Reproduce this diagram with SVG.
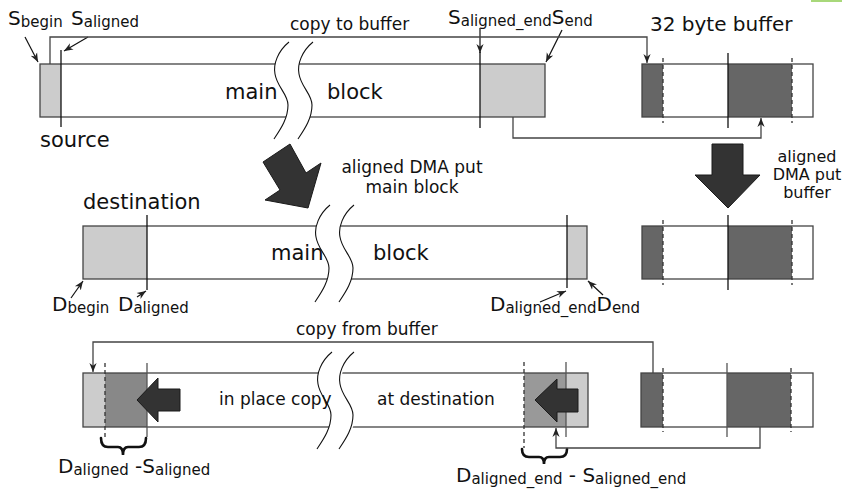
<svg xmlns="http://www.w3.org/2000/svg" xmlns:xlink="http://www.w3.org/1999/xlink" width="842" height="490" viewBox="0 0 842 490">
<style>
text{font-family:"DejaVu Sans","Liberation Sans",sans-serif;fill:#111}
.big{font-size:21px}
.med{font-size:20px}
.sm{font-size:17px}
.smr{font-size:16px}
.sub{font-size:15px}
.box{fill:none;stroke:#444;stroke-width:1.3}
.lg{fill:#cccccc}
.dk{fill:#666666}
.vl{stroke:#111;stroke-width:1.3}
.vg{stroke:#555;stroke-width:1.3}
.dash{stroke:#333;stroke-width:1.3;stroke-dasharray:4,3}
.wave{fill:none;stroke:#111;stroke-width:1.1}
.gapfill{fill:#fff;stroke:none}
.conn{fill:none;stroke:#444;stroke-width:1.3}
.ptr{fill:none;stroke:#111;stroke-width:1.2}
.bigarrow{fill:#333;stroke:#1a1a1a;stroke-width:1}
.brace{fill:none;stroke:#111;stroke-width:2.6;stroke-linecap:round}
</style>
<defs>
<marker id="ah" viewBox="0 0 10 10" refX="10" refY="5" markerWidth="9" markerHeight="9" markerUnits="userSpaceOnUse" orient="auto">
<path d="M0,1 L10,5 L0,9 L3,5 z" fill="#222"/>
</marker>
<path id="gap" d="M0,0 C-11,9 -16,22 -14,32 C-12,45 -1,52 -1,63 C-1,77 -9,88 -15,97 L9,97 C15,88 23,77 23,63 C23,52 12,45 10,32 C8,22 13,9 24,0 Z"/>
<path id="w" d="M0,0 C-11,9 -16,22 -14,32 C-12,45 -1,52 -1,63 C-1,77 -9,88 -15,97"/>
</defs>
<rect x="811" y="0" width="31" height="2" fill="#a8d87a"/>

<g id="source-block">
<rect class="lg" x="40" y="64" width="21" height="53"/>
<rect class="lg" x="480" y="64" width="65" height="53"/>
<rect class="box" x="40" y="64" width="505" height="53"/>
<line class="vl" x1="61" y1="50" x2="61" y2="127"/>
<line class="vl" x1="480" y1="52" x2="480" y2="128"/>
<g transform="translate(289,42)"><use href="#gap" class="gapfill"/><use href="#w" class="wave"/><use href="#w" class="wave" x="24"/></g>
<text class="big" x="225" y="99">main</text>
<text class="big" x="327" y="99">block</text>
<text class="big" x="40" y="147">source</text>
</g>

<g id="buffer-top">
<rect class="dk" x="642" y="64" width="21" height="53"/>
<rect class="dk" x="728" y="64" width="64" height="53"/>
<rect class="box" x="642" y="64" width="171" height="53"/>
<line class="dash" x1="663" y1="58" x2="663" y2="123"/>
<line class="dash" x1="792" y1="58" x2="792" y2="123"/>
<line class="vl" x1="728" y1="53" x2="728" y2="128"/>
<text class="med" x="650" y="31">32 byte buffer</text>
</g>

<g id="dest-block">
<rect class="lg" x="83" y="226" width="64" height="53"/>
<rect class="lg" x="567" y="226" width="20" height="53"/>
<rect class="box" x="83" y="226" width="504" height="53"/>
<line class="vl" x1="147" y1="215" x2="147" y2="290"/>
<line class="vl" x1="567" y1="215" x2="567" y2="288"/>
<g transform="translate(330,205)"><use href="#gap" class="gapfill"/><use href="#w" class="wave"/><use href="#w" class="wave" x="24"/></g>
<text class="big" x="271" y="260">main</text>
<text class="big" x="373" y="260">block</text>
<text class="big" x="83" y="209">destination</text>
</g>

<g id="buffer-mid">
<rect class="dk" x="642" y="226" width="21" height="53"/>
<rect class="dk" x="728" y="226" width="64" height="53"/>
<rect class="box" x="642" y="226" width="171" height="53"/>
<line class="dash" x1="663" y1="220" x2="663" y2="285"/>
<line class="dash" x1="792" y1="220" x2="792" y2="285"/>
<line class="vl" x1="728" y1="215" x2="728" y2="290"/>
</g>

<g id="final-block">
<rect class="lg" x="83" y="373" width="22" height="54"/>
<rect fill="#888" x="105" y="373" width="42" height="54"/>
<rect fill="#999" x="524" y="373" width="42" height="54"/>
<rect class="lg" x="566" y="373" width="22" height="54"/>
<rect class="box" x="83" y="373" width="505" height="54"/>
<line class="dash" x1="105" y1="363" x2="105" y2="438"/>
<line class="vg" x1="147" y1="363" x2="147" y2="437"/>
<line class="dash" x1="524" y1="362" x2="524" y2="448"/>
<line class="vg" x1="566" y1="362" x2="566" y2="437"/>
<g transform="translate(332,352)"><use href="#gap" class="gapfill"/><use href="#w" class="wave"/><use href="#w" class="wave" x="22"/></g>
<polygon class="bigarrow" points="137,400 158,378 158,389 180,389 180,411 158,411 158,422"/>
<polygon class="bigarrow" points="535,400 557,379 557,389 578,389 578,412 557,412 557,422"/>
<text class="sm" x="219" y="405">in place copy</text>
<text class="sm" x="377" y="405">at destination</text>
<path class="brace" d="M101,438 Q101,447 108,447 L118,447 Q123,447 123,455 Q123,447 128,447 L139,447 Q146,447 146,438"/>
<path class="brace" d="M522,449 Q522,457 529,457 L539,457 Q544,457 544,464 Q544,457 549,457 L560,457 Q567,457 567,449"/>
</g>

<g id="buffer-bottom">
<rect class="dk" x="641" y="373" width="22" height="54"/>
<rect class="dk" x="727" y="373" width="64" height="54"/>
<rect class="box" x="641" y="373" width="172" height="54"/>
<line class="dash" x1="663" y1="368" x2="663" y2="432"/>
<line class="dash" x1="791" y1="368" x2="791" y2="432"/>
<line class="vg" x1="727" y1="363" x2="727" y2="437"/>
</g>

<g id="big-arrows">
<polygon class="bigarrow" points="263,162 290,144 306,173 321,163 308,208 265,200 280,190"/>
<polygon class="bigarrow" points="712,144 743,144 743,175 760,175 728,208 695,175 712,175"/>
<text class="sm" x="412" y="173" text-anchor="middle">aligned DMA put</text>
<text class="sm" x="412" y="193" text-anchor="middle">main block</text>
<text class="smr" x="807" y="162" text-anchor="middle">aligned</text>
<text class="smr" x="807" y="180" text-anchor="middle">DMA put</text>
<text class="smr" x="807" y="198" text-anchor="middle">buffer</text>
</g>

<g id="labels">
<text class="med" x="8" y="25">S<tspan class="sub" dy="2">begin</tspan></text>
<text class="med" x="71" y="25">S<tspan class="sub" dy="2">aligned</tspan></text>
<text class="med" x="448" y="24">S<tspan class="sub" dy="2">aligned_end</tspan><tspan dy="-2">S</tspan><tspan class="sub" dy="2">end</tspan></text>
<text class="med" x="52" y="311">D<tspan class="sub" dy="2">begin</tspan></text>
<text class="med" x="118" y="311">D<tspan class="sub" dy="2">aligned</tspan></text>
<text class="med" x="490" y="311">D<tspan class="sub" dy="2">aligned_end</tspan><tspan dy="-2">D</tspan><tspan class="sub" dy="2">end</tspan></text>
<text class="med" x="58" y="473">D<tspan class="sub" dy="2">aligned</tspan><tspan dy="-2"> -S</tspan><tspan class="sub" dy="2">aligned</tspan></text>
<text class="med" x="456" y="482">D<tspan class="sub" dy="2">aligned_end</tspan><tspan dy="-2"> - S</tspan><tspan class="sub" dy="2">aligned_end</tspan></text>
<text class="sm" x="290" y="30">copy to buffer</text>
<text class="sm" x="296" y="335">copy from buffer</text>
</g>

<g id="connectors">
<line class="ptr" x1="25" y1="37" x2="38" y2="62" marker-end="url(#ah)"/>
<line class="ptr" x1="88" y1="37" x2="64" y2="51" marker-end="url(#ah)"/>
<line class="ptr" x1="480" y1="28" x2="480" y2="53" marker-end="url(#ah)"/>
<line class="ptr" x1="562" y1="30" x2="546" y2="62" marker-end="url(#ah)"/>
<polyline class="conn" points="50,64 50,37 647,37 647,63" marker-end="url(#ah)"/>
<polyline class="conn" points="513,117 513,138 761,138 761,118" marker-end="url(#ah)"/>
<line class="ptr" x1="71" y1="298" x2="83" y2="281" marker-end="url(#ah)"/>
<line class="ptr" x1="137" y1="297" x2="146" y2="291" marker-end="url(#ah)"/>
<line class="ptr" x1="540" y1="302" x2="566" y2="291" marker-end="url(#ah)"/>
<line class="ptr" x1="603" y1="295" x2="588" y2="281" marker-end="url(#ah)"/>
<polyline class="conn" points="653,373 653,342 93,342 93,372" marker-end="url(#ah)"/>
<polyline class="conn" points="760,427 760,448 556,448 556,428" marker-end="url(#ah)"/>
</g>
</svg>
